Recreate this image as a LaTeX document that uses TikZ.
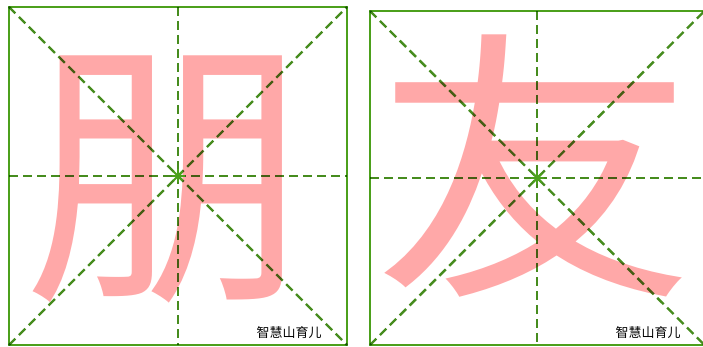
\documentclass[tikz,border=0pt]{standalone}
\usepackage{fontspec}
\newfontfamily\cjk{Noto Sans CJK SC}
\definecolor{boxgreen}{RGB}{76,160,28}
\definecolor{dashgreen}{RGB}{70,140,30}
\definecolor{inkpink}{RGB}{255,168,168}
\tikzset{
  border/.style={draw=boxgreen, line width=2.4pt},
  guide/.style={draw=dashgreen, line width=2.4pt, dash pattern=on 9pt off 5pt},
  hanzi/.style={text=inkpink, inner sep=0pt, font=\cjk\fontsize{285}{285}\selectfont},
  credit/.style={inner sep=0pt, font=\cjk\fontsize{13}{13}\selectfont},
}
\begin{document}
\begin{tikzpicture}[x=1pt,y=-1pt]
        \useasboundingbox (0,0) rectangle (703,347);
        \fill[white] (0,0) rectangle (703,347);
        % the two boxes
        \draw[border] (9,7) rectangle (347,345);
        \draw[border] (370,11) rectangle (704.5,345);
        % the characters
        \node[hanzi] (peng) at (167,179) {朋};
        \node[hanzi, xscale=1.13] (you) at (535,166) {友};
        % guide lines
        \begin{scope}[blend mode=multiply]
        \foreach \l/\t/\r/\b in {9/7/347/345, 370/11/704.5/345}{
          \draw[guide] (\l,\t) -- (\r,\b);
          \draw[guide] (\l,\b) -- (\r,\t);
          \draw[guide] ({(\l+\r)/2},\t) -- ({(\l+\r)/2},\b);
          \draw[guide] (\l,{(\t+\b)/2}) -- (\r,{(\t+\b)/2});
        }
        \end{scope}
        % centre stars
        \foreach \cx/\cy in {178/176, 537.25/178}
          \foreach \a in {0,45,...,315}
            \draw[boxgreen, line width=1.8pt] (\cx,\cy) -- ++(\a:6.5);
        \node[credit] (cl) at (289,333) {智慧山育儿};
        \node[credit] (cr) at (648,333) {智慧山育儿};
    \end{tikzpicture}
\end{document}
